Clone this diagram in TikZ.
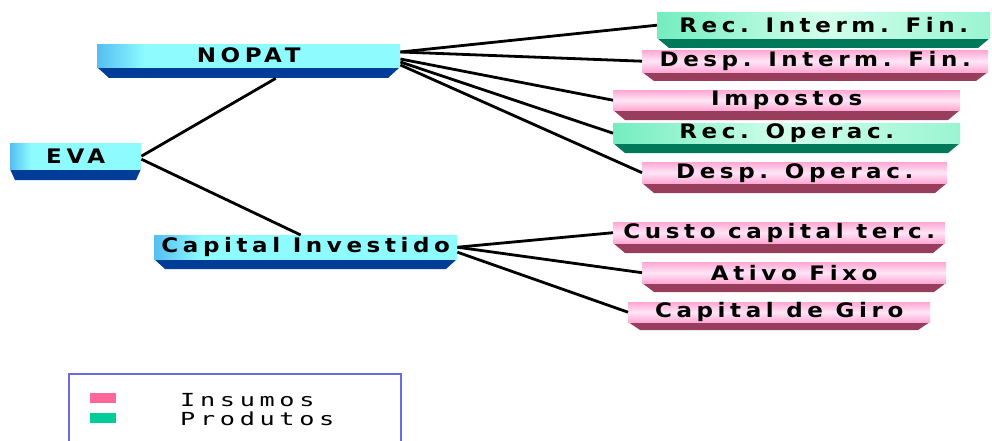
\documentclass[tikz,border=0pt]{standalone}
\usepackage{fontspec}
\usetikzlibrary{calc}
\newfontfamily\boxfont[LetterSpace=23,FakeStretch=1.15]{DejaVu Sans Bold}
\newfontfamily\legfont[LetterSpace=26,FakeStretch=1.4]{DejaVu Sans Mono}
\definecolor{cyanL}{HTML}{55BEF2}
\definecolor{cyanR}{HTML}{8EFCFF}
\definecolor{blueband}{HTML}{003D99}
\definecolor{pinkA}{HTML}{FFA8D4}
\definecolor{pinkM}{HTML}{FFE6F7}
\definecolor{pinkband}{HTML}{993D5C}
\definecolor{greenA}{HTML}{74EDC0}
\definecolor{greenM}{HTML}{D2FFEC}
\definecolor{greenband}{HTML}{00785A}
\definecolor{legpink}{HTML}{FF6699}
\definecolor{leggreen}{HTML}{00CC99}
\definecolor{legframe}{HTML}{6B6BDD}
\pgfdeclarehorizontalshading{cyanshade}{100bp}{color(0bp)=(cyanL); color(25bp)=(cyanL); color(33bp)=(cyanR); color(100bp)=(cyanR)}
\tikzset{
  cyanbox/.style={shading=cyanshade},
  cyanboxband/.style={fill=blueband},
  pinkbox/.style={top color=pinkA, bottom color=pinkA, middle color=pinkM},
  pinkboxband/.style={fill=pinkband},
  greenbox/.style={left color=greenA, right color=greenA!60!greenM, middle color=greenM},
  greenboxband/.style={fill=greenband},
  boxtext/.style={inner sep=0pt, font=\boxfont\fontsize{20}{20}\selectfont, text=black},
  link/.style={line width=2.8pt, black},
  legsq/.style={inner sep=0pt, minimum width=26pt, minimum height=10pt},
  legtext/.style={inner sep=0pt, anchor=west, font=\legfont\fontsize{18}{20}\selectfont}
}
% name, style, x, y, width, height, band depth, inset, text
\newcommand\barbox[9]{%
  \fill[#2band] ($(#3,#4)+(0,#6)$) -- ++(#5,0) -- ++(-#8,#7) -- ($(#3,#4)+(#8,#6+#7)$) -- cycle;
  \node[#2, boxtext, minimum width=#5pt, minimum height=#6pt, anchor=north west] (#1) at (#3,#4) {#9};
}
\begin{document}
\begin{tikzpicture}[x=1pt,y=-1pt]
\useasboundingbox (0,0) rectangle (992,441);
\barbox{nopat}{cyanbox}{97}{44}{303}{23}{11}{12}{NOPAT}
\barbox{eva}{cyanbox}{10}{143}{131}{26}{11}{5}{EVA}
\barbox{capinv}{cyanbox}{154}{235}{303}{24}{10}{11}{Capital Investido}
\barbox{recif}{greenbox}{657}{12}{333}{26}{10}{12}{Rec. Interm. Fin.}
\barbox{despif}{pinkbox}{642}{50}{346}{22}{9}{12}{Desp. Interm. Fin.}
\barbox{impostos}{pinkbox}{613}{90}{347}{20}{10}{12}{Impostos}
\barbox{recop}{greenbox}{613}{123}{347}{20}{10}{12}{Rec. Operac.}
\barbox{despop}{pinkbox}{642}{162}{305}{21}{10}{12}{Desp. Operac.}
\barbox{custo}{pinkbox}{613}{222}{332}{21}{10}{12}{Custo capital terc.}
\barbox{ativo}{pinkbox}{642}{262}{304}{21}{9}{12}{Ativo Fixo}
\barbox{giro}{pinkbox}{628}{302}{302}{20}{8}{12}{Capital de Giro}

\draw[link] (eva.east) -- ($(nopat.south)+(27,11)$);
\draw[link] ($(eva.east)+(0,3)$) -- ($(capinv.north)+(-5,0)$);
\draw[link] ($(nopat.north east)+(0,8)$) -- (recif.west);
\draw[link] ($(nopat.north east)+(0,8)$) -- (despif.west);
\draw[link] ($(nopat.north east)+(0,15)$) -- (impostos.west);
\draw[link] ($(nopat.north east)+(0,18)$) -- (recop.west);
\draw[link] ($(nopat.north east)+(0,21)$) -- (despop.west);
\draw[link] (capinv.east) -- (custo.west);
\draw[link] (capinv.east) -- (ativo.west);
\draw[link] ($(capinv.east)+(0,5)$) -- (giro.west);

\draw[legframe, line width=1.5pt] (69,445) -- (69,374) -- (401,374) -- (401,445);
\node[legsq, fill=legpink, anchor=north west] (sqp) at (90,393) {};
\node[legsq, fill=leggreen, anchor=north west] (sqg) at (90,413) {};
\node[legtext] (tins) at (180,400) {Insumos};
\node[legtext] (tprod) at (180,419) {Produtos};
\end{tikzpicture}
\end{document}
